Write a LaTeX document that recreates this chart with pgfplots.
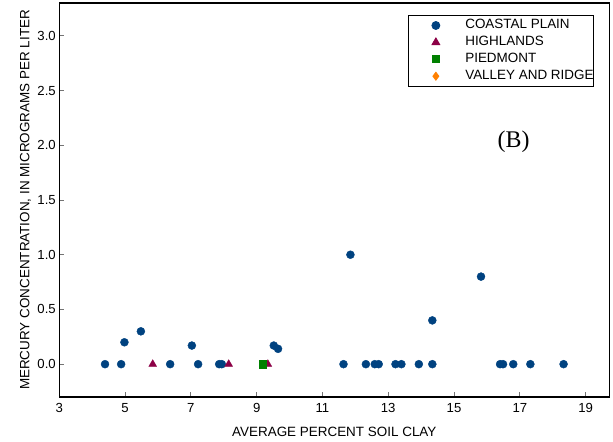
\documentclass[border=0pt]{standalone}
\usepackage{fontspec}
\setmainfont{Liberation Sans}
\newfontfamily\seriffont{Liberation Serif}
\usepackage{pgfplots}
\pgfplotsset{compat=1.18}
\definecolor{cp}{RGB}{0,66,128}
\definecolor{hl}{RGB}{140,0,70}
\definecolor{pd}{RGB}{0,128,0}
\definecolor{vr}{RGB}{255,128,0}
\begin{document}
\begin{tikzpicture}
\begin{axis}[
  name=ax,
  scale only axis, width=550bp, height=394bp,
  xmin=3, xmax=19.72, ymin=-0.3, ymax=3.3,
  xtick={3,5,...,19}, ytick={0,0.5,...,3},
  yticklabel style={/pgf/number format/.cd, fixed, fixed zerofill, precision=1},
  /pgf/number format/assume math mode=true,
  tick align=inside, tick pos=left,
  major tick length=5bp,
  tick style={black!55, line width=0.8bp},
  axis line style={line width=1.5bp, black},
  ticklabel style={font=\fontsize{13.2}{15}\selectfont},
  xticklabel style={yshift=-3bp},
  xlabel={AVERAGE PERCENT SOIL CLAY},
  ylabel={MERCURY CONCENTRATION, IN MICROGRAMS PER LITER},
  label style={font=\fontsize{13.5}{15}\selectfont},
  xlabel style={at={(axis description cs:0.5,-0.0888)}, anchor=center},
  ylabel style={at={(axis description cs:-0.0615,0.5)}, anchor=center},
  legend cell align=left,
  legend image code/.code={\draw plot coordinates {(27bp,0bp)}; \path (0bp,0bp) (56bp,0bp);},
  legend style={at={(1,1)}, anchor=north east, xshift=-15.3bp, yshift=-12bp,
    draw=black, line width=0.8bp, inner xsep=0bp, inner ysep=3.6bp,
    nodes={inner xsep=0bp, inner ysep=0bp, text height=10bp, text depth=3bp},
    font=\fontsize{13.5}{15}\selectfont, row sep=3.9bp},
]
\addplot[only marks, mark=*, mark size=4bp, color=cp] coordinates {
(4.39,0) (4.88,0) (4.98,0.20) (5.48,0.30) (6.37,0) (7.03,0.17) (7.22,0)
(7.86,0) (7.94,0) (9.52,0.17) (9.65,0.14) (11.64,0) (11.85,1.0) (12.32,0)
(12.59,0) (12.71,0) (13.22,0) (13.40,0) (13.93,0) (14.34,0) (14.34,0.40)
(15.82,0.80) (16.40,0) (16.49,0) (16.80,0) (17.32,0) (18.33,0)
};
\addlegendentry{COASTAL PLAIN}
\addplot[only marks, mark=triangle*, mark size=4.5bp, color=hl] coordinates {
(5.84,0) (8.15,0) (9.34,0)
};
\addlegendentry{HIGHLANDS}
\addplot[only marks, mark=square*, mark size=3.6bp, color=pd] coordinates {
(9.19,0)
};
\addlegendentry{PIEDMONT}
\addplot[only marks, mark=diamond*, mark size=4bp, color=vr] coordinates {
(30,5)
};
\addlegendentry{VALLEY AND RIDGE}
\node[font=\seriffont\fontsize{24}{28}\selectfont] at (rel axis cs:0.826,0.648) {(B)};
\end{axis}
\pgfresetboundingbox
\path ([xshift=-59.3bp,yshift=-45bp]ax.south west) rectangle ([xshift=3.7bp,yshift=3bp]ax.north east);
\end{tikzpicture}
\end{document}
